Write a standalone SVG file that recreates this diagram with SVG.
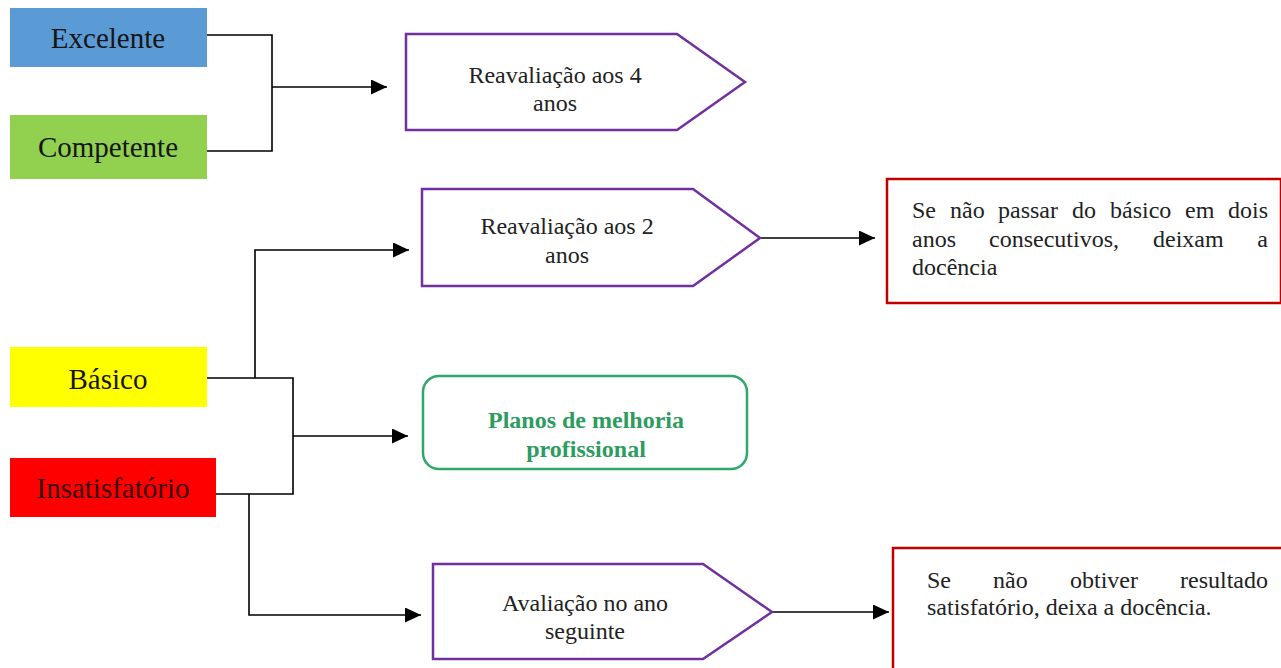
<svg xmlns="http://www.w3.org/2000/svg" width="1281" height="668" viewBox="0 0 1281 668">
<style>
text{font-family:"Liberation Serif","Times New Roman",serif;}
.lvl{font-size:29px;fill:#151515;text-anchor:middle;}
.pent{fill:#fff;stroke:#7030A0;stroke-width:2.5;}
.pt{font-size:24px;fill:#222;text-anchor:middle;}
.rbox{fill:#fff;stroke:#C00000;stroke-width:2.5;}
.rt{font-size:24px;fill:#222;}
.conn{fill:none;stroke:#000;stroke-width:1.6;}
.gt{font-size:24px;font-weight:bold;fill:#2E9B60;text-anchor:middle;}
</style>
<defs>
<marker id="arr" markerUnits="userSpaceOnUse" markerWidth="17" markerHeight="16" refX="16" refY="7.5" orient="auto">
<path d="M0,0 L16,7.5 L0,15 z" fill="#000"/>
</marker>
</defs>
<rect width="1281" height="668" fill="#fff"/>
<g id="connectors">
<path class="conn" d="M207,35 H272 V151 H207"/>
<path class="conn" d="M272,87 H387" marker-end="url(#arr)"/>
<path class="conn" d="M207,378 H293 V494 H216"/>
<path class="conn" d="M293,436 H408" marker-end="url(#arr)"/>
<path class="conn" d="M255,378 V250 H409" marker-end="url(#arr)"/>
<path class="conn" d="M249,494 V615 H421" marker-end="url(#arr)"/>
<path class="conn" d="M760,238 H875" marker-end="url(#arr)"/>
<path class="conn" d="M772,612 H889" marker-end="url(#arr)"/>
</g>
<g id="excelente">
<rect x="10" y="8" width="197" height="59" fill="#5B9BD5"/>
<text class="lvl" x="108" y="48">Excelente</text>
</g>
<g id="competente">
<rect x="10" y="115" width="197" height="64" fill="#92D050"/>
<text class="lvl" x="108" y="157">Competente</text>
</g>
<g id="basico">
<rect x="10" y="347" width="197" height="60" fill="#FFFF00"/>
<text class="lvl" x="108" y="389">Básico</text>
</g>
<g id="insatisfatorio">
<rect x="10" y="458" width="206" height="59" fill="#FF0000"/>
<text class="lvl" x="113" y="498" style="fill:#3a0606">Insatisfatório</text>
</g>
<g id="reav4">
<polygon class="pent" points="406,34 677,34 745,82 677,130 406,130"/>
<text class="pt" x="555" y="83">Reavaliação aos 4</text>
<text class="pt" x="555" y="111">anos</text>
</g>
<g id="reav2">
<polygon class="pent" points="422,189 693,189 760,238 693,286 422,286"/>
<text class="pt" x="567" y="234">Reavaliação aos 2</text>
<text class="pt" x="567" y="263">anos</text>
</g>
<g id="planos">
<rect x="423" y="376" width="324" height="93" rx="16" fill="#fff" stroke="#2EA86A" stroke-width="2.5"/>
<text class="gt" x="586" y="428">Planos de melhoria</text>
<text class="gt" x="586" y="457">profissional</text>
</g>
<g id="avaliacao">
<polygon class="pent" points="433,564 703,564 772,612 703,659 433,659"/>
<text class="pt" x="585" y="611">Avaliação no ano</text>
<text class="pt" x="585" y="639">seguinte</text>
</g>
<g id="deixam">
<rect class="rbox" x="887" y="179" width="394" height="124"/>
<text class="rt" y="218"><tspan x="912">Se</tspan><tspan x="950">não</tspan><tspan x="998">passar</tspan><tspan x="1072">do</tspan><tspan x="1110">básico</tspan><tspan x="1185">em</tspan><tspan x="1268" text-anchor="end">dois</tspan></text>
<text class="rt" y="247"><tspan x="912">anos</tspan><tspan x="989">consecutivos,</tspan><tspan x="1153">deixam</tspan><tspan x="1268" text-anchor="end">a</tspan></text>
<text class="rt" y="275" x="912">docência</text>
</g>
<g id="deixa">
<rect class="rbox" x="893" y="548" width="390" height="130"/>
<text class="rt" y="588"><tspan x="927">Se</tspan><tspan x="993">não</tspan><tspan x="1070">obtiver</tspan><tspan x="1268" text-anchor="end">resultado</tspan></text>
<text class="rt" y="615" x="927">satisfatório, deixa a docência.</text>
</g>
</svg>
